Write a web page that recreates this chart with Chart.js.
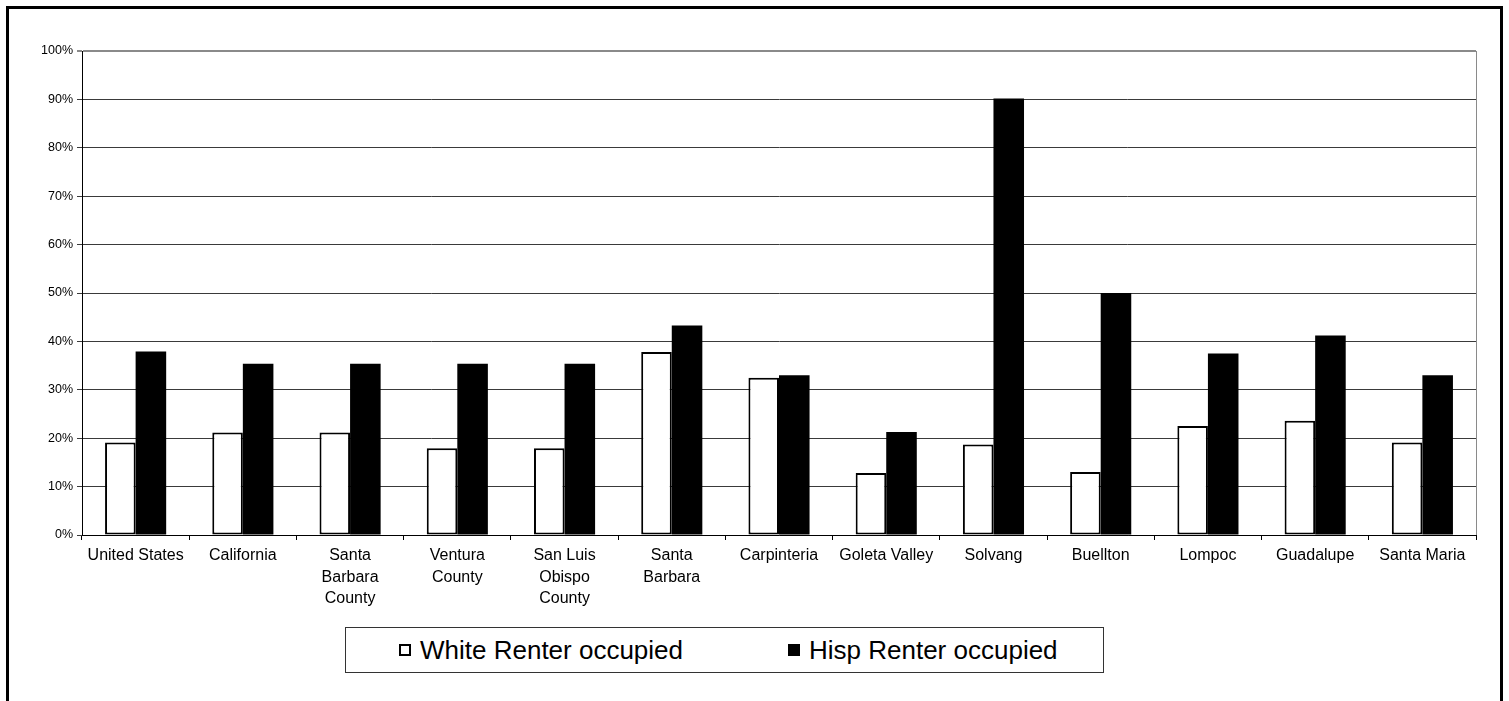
<!DOCTYPE html>
<html>
<head>
<meta charset="utf-8">
<script src="https://cdn.jsdelivr.net/npm/chart.js@4.4.1/dist/chart.umd.min.js"></script>
<style>
    html, body { margin: 0; padding: 0; background: #fff; overflow: hidden; }
    body { width: 1509px; height: 701px; position: relative; font-family: "Liberation Sans", Arial, sans-serif; }
    #frame { position: absolute; left: 6px; top: 6px; width: 1497px; height: 760px; border: 3px solid #000; box-sizing: border-box; }
    #wrap { position: absolute; left: 0; top: 0; width: 1509px; height: 701px; }
    #legend { position: absolute; left: 345px; top: 627px; width: 759px; height: 46px; border: 1px solid #333; box-sizing: border-box; background: #fff; }
    .item { position: absolute; top: 0; height: 44px; display: flex; align-items: center; font-size: 26px; color: #000; white-space: nowrap; }
    .swatch { width: 12px; height: 12px; box-sizing: border-box; margin-right: 9px; border: 2px solid #000; }
</style>
</head>
<body>
<div id="frame"></div>
<div id="wrap"><canvas id="chart"></canvas></div>
<div id="legend"></div>
<script>
const categories = [
    'United States', 'California', ['Santa', 'Barbara', 'County'], ['Ventura', 'County'],
    ['San Luis', 'Obispo', 'County'], ['Santa', 'Barbara'], 'Carpinteria', 'Goleta Valley',
    'Solvang', 'Buellton', 'Lompoc', 'Guadalupe', 'Santa Maria'
];
const whiteRenter = [19.1, 21.2, 21.2, 17.9, 17.9, 37.8, 32.5, 12.8, 18.7, 13.0, 22.5, 23.6, 19.1];
const hispRenter = [37.9, 35.4, 35.4, 35.4, 35.4, 43.3, 33.0, 21.3, 90.2, 50.0, 37.5, 41.2, 33.0];
const seriesNames = ['White Renter occupied', 'Hisp Renter occupied'];
const yTicks = [0, 10, 20, 30, 40, 50, 60, 70, 80, 90, 100];

const FONT = '"Liberation Sans", Arial, sans-serif';

// thin grey edge on the right of the plot, like the original frame
const plotEdge = {
    id: 'plotEdge',
    afterDraw(chart) {
        const { ctx, chartArea } = chart;
        ctx.save();
        ctx.strokeStyle = '#8a8a8a';
        ctx.lineWidth = 1;
        ctx.beginPath();
        ctx.moveTo(Math.round(chartArea.right) + 0.5, chartArea.top);
        ctx.lineTo(Math.round(chartArea.right) + 0.5, chartArea.bottom);
        ctx.stroke();
        ctx.restore();
    }
};

const chart = new Chart(document.getElementById('chart'), {
    type: 'bar',
    data: {
        labels: categories,
        datasets: [
            {
                label: seriesNames[0],
                data: whiteRenter,
                backgroundColor: '#ffffff',
                borderColor: '#000000',
                borderWidth: 2,
                borderSkipped: false
            },
            {
                label: seriesNames[1],
                data: hispRenter,
                backgroundColor: '#000000',
                borderWidth: 0
            }
        ]
    },
    options: {
        responsive: true,
        maintainAspectRatio: false,
        animation: false,
        devicePixelRatio: 1,
        layout: { padding: { left: 0, top: 51, right: 33, bottom: 0 } },
        datasets: { bar: { barPercentage: 1.0, categoryPercentage: 0.57 } },
        plugins: {
            legend: { display: false },
            tooltip: { enabled: false }
        },
        scales: {
            x: {
                offset: true,
                grid: { offset: true, drawOnChartArea: false, drawTicks: true, tickLength: 5, color: '#000' },
                border: { color: '#000', width: 1 },
                ticks: {
                    color: '#000',
                    font: { family: FONT, size: 16, lineHeight: 1.34 },
                    padding: 5,
                    maxRotation: 0,
                    autoSkip: false
                },
                afterFit(scale) { scale.height = 166; }
            },
            y: {
                min: 0,
                max: 100,
                afterBuildTicks(scale) { scale.ticks = yTicks.map(v => ({ value: v })); },
                grid: {
                    color: c => (c.tick && c.tick.value === 100) ? '#8a8a8a' : '#3a3a3a',
                    lineWidth: c => (c.tick && c.tick.value === 100) ? 2 : 1,
                    tickLength: 5
                },
                border: { color: '#000', width: 1 },
                ticks: {
                    color: '#000',
                    font: { family: FONT, size: 12.5 },
                    padding: 4,
                    callback: v => v + '%'
                },
                afterFit(scale) { scale.width = 82; }
            }
        }
    },
    plugins: [plotEdge]
});

// legend box built from the datasets
const legend = document.getElementById('legend');
const itemLeft = [53, 442];
chart.data.datasets.forEach((ds, i) => {
    const item = document.createElement('div');
    item.className = 'item';
    item.style.left = itemLeft[i] + 'px';
    const sw = document.createElement('span');
    sw.className = 'swatch';
    sw.style.background = ds.backgroundColor;
    item.appendChild(sw);
    item.appendChild(document.createTextNode(ds.label));
    legend.appendChild(item);
});
</script>
</body>
</html>
